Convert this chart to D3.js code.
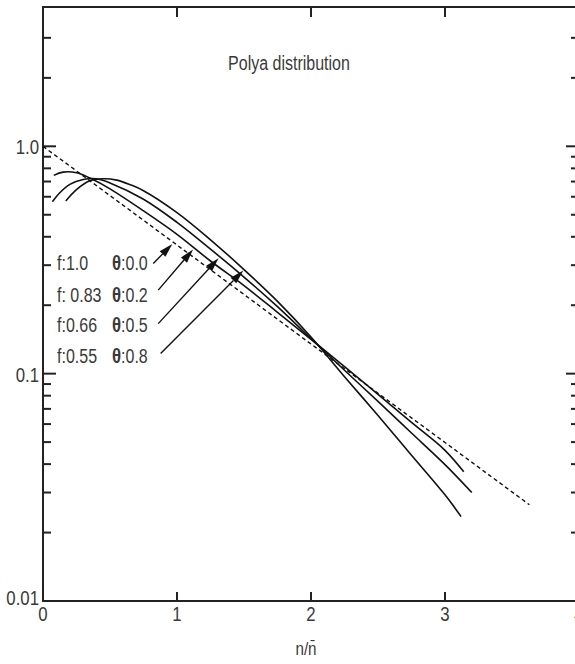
<!DOCTYPE html>
<html>
<head>
<meta charset="utf-8">
<script src="https://cdn.jsdelivr.net/npm/d3@7/dist/d3.min.js"></script>
<style>
  html, body { margin: 0; padding: 0; background: #fff; }
  svg { display: block; }
  text { font-family: "Liberation Sans", Arial, sans-serif; fill: #3a3a3a; }
</style>
</head>
<body>
<script>
// Exponential reference (f = 1.0, θ = 0.0), drawn dashed
const expX = [0.0, 0.5, 1.0, 1.5, 2.0, 2.5, 3.0, 3.63];
const expY = [1.0, 0.607, 0.368, 0.223, 0.135, 0.082, 0.0498, 0.0265];

// Polya curves, n/n̄ against probability
const polya02X = [0.08, 0.15, 0.25, 0.35, 0.5, 0.75, 1.0, 1.25, 1.5, 1.75, 2.0, 2.25, 2.5, 2.75, 3.0, 3.14];
const polya02Y = [0.745, 0.77, 0.765, 0.725, 0.65, 0.52, 0.41, 0.313, 0.244, 0.186, 0.1415, 0.1075, 0.081, 0.061, 0.046, 0.037];

const polya05X = [0.07, 0.12, 0.2, 0.3, 0.4, 0.5, 0.75, 1.0, 1.25, 1.5, 1.75, 2.0, 2.25, 2.5, 2.75, 3.0, 3.2];
const polya05Y = [0.57, 0.62, 0.68, 0.715, 0.72, 0.69, 0.585, 0.463, 0.353, 0.266, 0.197, 0.1425, 0.1035, 0.0755, 0.0548, 0.0398, 0.030];

const polya08X = [0.17, 0.25, 0.35, 0.45, 0.55, 0.65, 0.75, 1.0, 1.25, 1.5, 1.75, 2.0, 2.25, 2.5, 2.75, 3.0, 3.12];
const polya08Y = [0.575, 0.645, 0.705, 0.72, 0.71, 0.678, 0.638, 0.511, 0.388, 0.287, 0.208, 0.145, 0.097, 0.0655, 0.0438, 0.0293, 0.0235];

// Legend entries: f value, θ value
const legendF = ["f:1.0", "f: 0.83", "f:0.66", "f:0.55"];
const legendTheta = ["0.0", "0.2", "0.5", "0.8"];

// Arrow annotations in data units: [x, y] of tail and tip
const arrowTails = [[0.823, 0.305], [0.86, 0.233], [0.86, 0.166], [0.878, 0.1227]];
const arrowTips  = [[0.965, 0.372], [1.12, 0.352], [1.31, 0.322], [1.495, 0.284]];

// Axis ticks
const xTicks = [0, 1, 2, 3, 4];
const yMajor = [0.01, 0.1, 1.0];
const yMajorLabels = ["0.01", "0.1", "1.0"];
const yMinor = [0.02, 0.03, 0.04, 0.05, 0.06, 0.07, 0.08, 0.09, 0.2, 0.3, 0.4, 0.5, 0.6, 0.7, 0.8, 0.9, 2, 3];

const W = 575, H = 664;
const svg = d3.select("body").append("svg").attr("width", W).attr("height", H);

const x = d3.scaleLinear().domain([0, 4]).range([43, 579]);
const y = d3.scaleLog().domain([0.01, 4.1]).range([601, 7]);

const axisColor = "#222";
const SX = 0.8; // condensed type

// Text helper: places a horizontally condensed label
function label(str, px, py, size, anchor) {
  const g = svg.append("g").attr("transform", `translate(${px},${py}) scale(${SX},1)`);
  return g.append("text").attr("x", 0).attr("y", 0)
    .attr("font-size", size).attr("text-anchor", anchor || "start").text(str);
}

// Frame: left, bottom, top, right
svg.append("rect")
  .attr("x", x(0)).attr("y", y(4.1))
  .attr("width", x(4) - x(0)).attr("height", y(0.01) - y(4.1))
  .attr("fill", "none").attr("stroke", axisColor).attr("stroke-width", 2);

// Y ticks on both sides, pointing inward
function yTicks(vals, len) {
  vals.forEach(v => {
    svg.append("line").attr("x1", x(0)).attr("x2", x(0) + len)
      .attr("y1", y(v)).attr("y2", y(v)).attr("stroke", axisColor).attr("stroke-width", 2);
    svg.append("line").attr("x1", x(4)).attr("x2", x(4) - len)
      .attr("y1", y(v)).attr("y2", y(v)).attr("stroke", axisColor).attr("stroke-width", 2);
  });
}
yTicks(yMajor, 13);
yTicks(yMinor, 8);

// X ticks on top and bottom
xTicks.filter(t => t > 0 && t < 4).forEach(t => {
  svg.append("line").attr("x1", x(t)).attr("x2", x(t))
    .attr("y1", y(0.01)).attr("y2", y(0.01) - 9).attr("stroke", axisColor).attr("stroke-width", 2);
  svg.append("line").attr("x1", x(t)).attr("x2", x(t))
    .attr("y1", y(4.1)).attr("y2", y(4.1) + 10).attr("stroke", axisColor).attr("stroke-width", 2);
});

// Tick labels
xTicks.forEach(t => label(String(t), x(t), 621, 21, "middle"));
yMajor.forEach((v, i) => label(yMajorLabels[i], 39, i === 0 ? y(v) + 4 : y(v) + 8, 21, "end"));

// Axis title n/n̄
label("n/n\u0304", 306, 655, 19, "middle");

// Chart title
label("Polya distribution", 289, 70, 20, "middle");

// Curves
const line = d3.line().x(d => x(d[0])).y(d => y(d[1])).curve(d3.curveCatmullRom.alpha(0.5));
const zip = (a, b) => a.map((v, i) => [v, b[i]]);

svg.append("path").datum(zip(expX, expY))
  .attr("d", d3.line().x(d => x(d[0])).y(d => y(d[1])))
  .attr("fill", "none").attr("stroke", "#111").attr("stroke-width", 1.4)
  .attr("stroke-dasharray", "4,3");

[[polya02X, polya02Y], [polya05X, polya05Y], [polya08X, polya08Y]].forEach(([xs, ys]) => {
  svg.append("path").datum(zip(xs, ys))
    .attr("d", line)
    .attr("fill", "none").attr("stroke", "#111").attr("stroke-width", 1.6);
});

// Legend labels
const rowBase = [270, 301.5, 332, 363];
legendF.forEach((t, i) => {
  label(t, 57, rowBase[i], 20);
  const tx = label("", 112, rowBase[i], 20);
  tx.append("tspan").attr("font-weight", "bold").attr("font-size", 21).text("\u03B8");
  tx.append("tspan").text(":" + legendTheta[i]);
});

// Arrows pointing from the labels to each curve
arrowTails.forEach((tail, i) => {
  const tip = arrowTips[i];
  const x1 = x(tail[0]), y1 = y(tail[1]), x2 = x(tip[0]), y2 = y(tip[1]);
  const ang = Math.atan2(y2 - y1, x2 - x1);
  const L = 14, Wd = 4;
  const bx = x2 - L * Math.cos(ang), by = y2 - L * Math.sin(ang);
  svg.append("line").attr("x1", x1).attr("y1", y1).attr("x2", bx).attr("y2", by)
    .attr("stroke", "#111").attr("stroke-width", 1.4);
  const pts = [
    [x2, y2],
    [bx + Wd * Math.sin(ang), by - Wd * Math.cos(ang)],
    [bx - Wd * Math.sin(ang), by + Wd * Math.cos(ang)]
  ];
  svg.append("polygon").attr("points", pts.map(p => p.join(",")).join(" ")).attr("fill", "#111");
});
</script>
</body>
</html>
